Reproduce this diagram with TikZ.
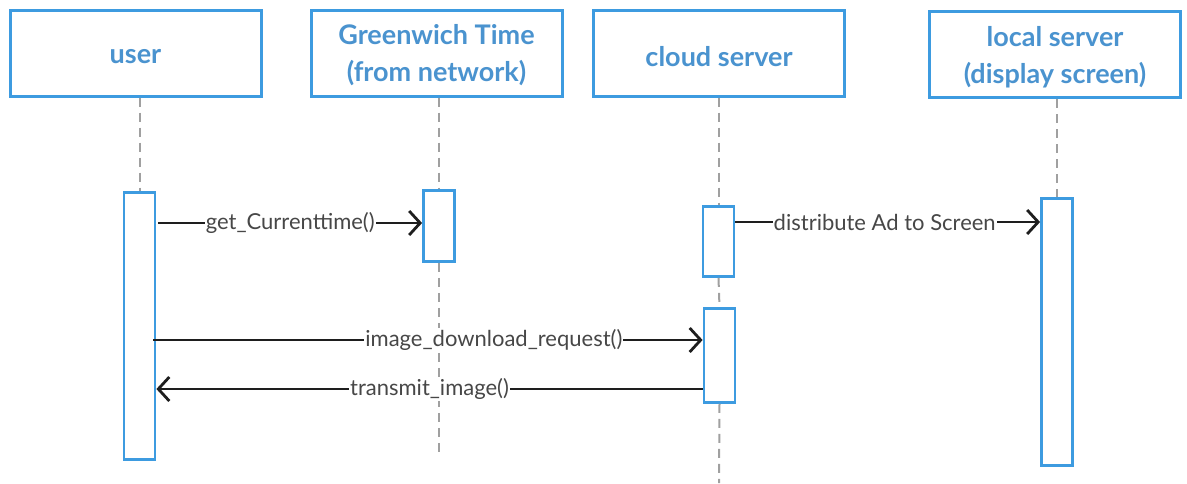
\documentclass[tikz,border=0pt]{standalone}
\usepackage{fontspec}
\setmainfont{Lato}
\usetikzlibrary{arrows.meta,calc}
\definecolor{boxblue}{HTML}{3D9BE0}
\definecolor{titleblue}{HTML}{4A93CF}
\definecolor{lblgray}{HTML}{474747}
\definecolor{lifegray}{HTML}{A0A0A0}
\definecolor{msgblack}{HTML}{1E1E1E}
\tikzset{
  head/.style={draw=boxblue, line width=3pt, fill=white, rectangle, inner sep=0pt,
    minimum width=251pt, minimum height=86pt},
  htext/.style={align=center, inner sep=0pt,
    font=\fontsize{27}{37}\selectfont\bfseries, text=titleblue},
  act/.style={draw=boxblue, line width=2.8pt, fill=white, rectangle, inner sep=0pt,
    minimum width=31pt},
  life/.style={draw=lifegray, line width=2pt, dash pattern=on 9pt off 6pt},
  msg/.style={draw=msgblack, line width=2.8pt,
    -{Straight Barb[length=11pt,width=24pt,line width=2.8pt]}},
  lbl/.style={fill=white, inner sep=1pt, text=lblgray,
    font=\fontsize{22}{24}\selectfont}
}
\begin{document}
\begin{tikzpicture}[x=1pt,y=-1pt]
\useasboundingbox (0,0) rectangle (1187,483);

% participants
\node[head, label={[htext, yshift=-4pt]center:user}] (user) at (135.5,53) {};
\node[head, label={[htext, yshift=-2.5pt]center:Greenwich Time\\(from network)}] (gmt) at (436.5,53) {};
\node[head, label={[htext, yshift=-4pt]center:cloud server}] (cloud) at (719,53) {};
\node[head, label={[htext, yshift=-2.5pt]center:local server\\(display screen)}] (local) at (1055,54.5) {};

% activation bars
\node[act, minimum height=267pt] (ua)  at (139.5,326) {};
\node[act, minimum height=71pt]  (ga)  at (439,226)   {};
\node[act, minimum height=70pt]  (ca1) at (718.5,241.5) {};
\node[act, minimum height=94pt]  (ca2) at (719.5,355.5) {};
\node[act, minimum height=267pt] (la)  at (1057,332)  {};

% lifelines
\coordinate (gend) at (439,453);
\coordinate (cend) at (719,483);
\draw[life] (user.south -| ua.north) -- (ua.north);
\draw[life] (gmt.south -| ga.north) -- (ga.north);
\draw[life] (ga.south) -- (gend);
\draw[life] (cloud.south -| ca1.north) -- (ca1.north);
\draw[life] (ca1.south) -- (ca2.north);
\draw[life] (ca2.south) -- (cend);
\draw[life] (local.south -| la.north) -- (la.north);

% messages
\coordinate (m1) at (0,223);
\coordinate (m2) at (0,222);
\coordinate (m3) at (0,340);
\coordinate (m4) at (0,389);
\draw[msg] ([xshift=2pt]ua.east |- m1) -- (ga.west |- m1)
  node[lbl, pos=0.5] {get\_Currenttime()};
\draw[msg] (ca1.east |- m2) -- (la.west |- m2)
  node[lbl, pos=0.49] {distribute Ad to Screen};
\draw[msg] ([xshift=-3pt]ua.east |- m3) -- (ca2.west |- m3)
  node[lbl, pos=0.62] {image\_download\_request()};
\draw[msg] (ca2.west |- m4) -- (ua.east |- m4)
  node[lbl, pos=0.5] {transmit\_image()};
\end{tikzpicture}
\end{document}
